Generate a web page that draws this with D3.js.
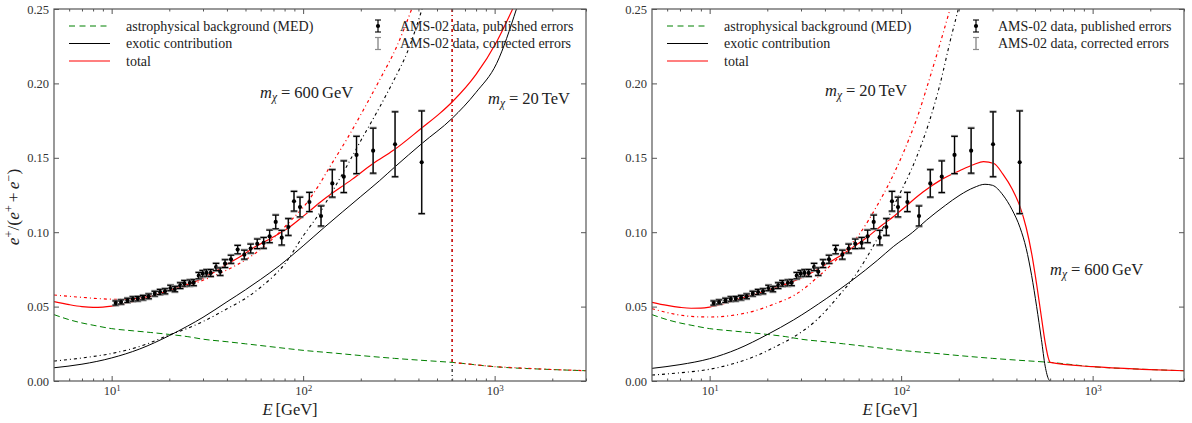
<!DOCTYPE html>
<html><head><meta charset="utf-8">
<script src="https://cdn.jsdelivr.net/npm/d3@7"></script>
<style>
body{margin:0;background:#fff;}
svg{display:block;font-family:"Liberation Serif","DejaVu Serif",serif;}
</style></head><body>
<svg id="c" width="1192" height="423"></svg>
<script>
// ---------- data ----------
const amsE = [10.5,11.2,12.1,12.9,13.7,14.6,15.6,16.8,17.9,19.0,20.3,21.4,22.8,24.0,25.6,26.8,28.5,29.9,31.3,32.9,35.1,36.9,39.1,42.0,45.5,49.3,53.2,57.6,62.2,66.8,71.9,77.3,83.7,89.6,96.3,107.8,124,142,163,190,232,302,416];
const amsF = [0.0524,0.0531,0.0542,0.0551,0.0553,0.0560,0.0569,0.0587,0.0598,0.0603,0.0625,0.0618,0.0641,0.0656,0.0659,0.0661,0.0708,0.0721,0.0726,0.0726,0.0766,0.0735,0.0789,0.0818,0.0883,0.0849,0.0890,0.0922,0.0928,0.0972,0.1069,0.0963,0.1035,0.1208,0.1169,0.1203,0.1109,0.1328,0.1373,0.1519,0.1548,0.1591,0.1470];
const errPublished = [0.0014,0.0014,0.0014,0.0015,0.0015,0.0015,0.0016,0.0016,0.0017,0.0017,0.0018,0.0018,0.0019,0.0019,0.0020,0.0020,0.0021,0.0021,0.0022,0.0023,0.0024,0.0025,0.0026,0.0027,0.0028,0.0030,0.0030,0.0032,0.0036,0.0042,0.0046,0.0049,0.0056,0.0066,0.0066,0.0064,0.0067,0.0092,0.0106,0.0125,0.0151,0.0218,0.0345];
const errCorrected = [0.0016,0.0016,0.0016,0.0017,0.0017,0.0017,0.0018,0.0018,0.0019,0.0019,0.0020,0.0020,0.0021,0.0021,0.0022,0.0022,0.0023,0.0023,0.0024,0.0025,0.0026,0.0027,0.0028,0.0029,0.0030,0.0032,0.0032,0.0034,0.0038,0.0044,0.0048,0.0051,0.0058,0.0068,0.0068,0.0066,0.0070,0.0094,0.0108,0.0127,0.0153,0.0219,0.0346];

// astrophysical background (MED), both panels
const bgE = [5,6,7,8,10,13,16,20,25,30,40,50,75,100,150,200,300,450,600,1000,2000,3000];
const bgF = [0.0446,0.0412,0.0390,0.0375,0.0352,0.0337,0.0326,0.0313,0.0298,0.0281,0.0264,0.0250,0.0224,0.0206,0.0186,0.0171,0.0152,0.0136,0.0125,0.0096,0.0077,0.0069];

// left panel: m = 20 TeV (solid), m = 600 GeV (dash-dot)
const exo20L_E = [5,7,10,14,20,25,30,40,50,60,75,100,127,160,200,250,302,416,600,800,1025,1300];
const exo20L_F = [0.0089,0.0113,0.0155,0.0215,0.0305,0.0370,0.0428,0.0532,0.0613,0.0683,0.0774,0.0908,0.1025,0.1135,0.1240,0.1345,0.1440,0.1595,0.1765,0.1940,0.2135,0.2500];
const tot20L_E = [5,6,7,8,9,10,12.8,15,18.3,22,27.2,33,40.6,46.8,55,71.3,85,104,127,180,233,296,416,519,600,800,1025,1242];
const tot20L_F = [0.0533,0.0513,0.0500,0.0495,0.0497,0.0503,0.0532,0.0556,0.0592,0.0627,0.0667,0.0720,0.0790,0.0835,0.0895,0.0975,0.1035,0.1125,0.1216,0.1355,0.1463,0.1550,0.1700,0.1800,0.1875,0.2060,0.2280,0.2500];
const exo600L_E = [5,7,10,15,20,25,30,40,50,60,70,80,100,122,140,165,200,252,300,350,418];
const exo600L_F = [0.0134,0.0155,0.0185,0.0245,0.0310,0.0355,0.0400,0.0485,0.0555,0.0630,0.0705,0.0785,0.0975,0.1130,0.1260,0.1420,0.1615,0.1845,0.2030,0.2210,0.2500];
const tot600L_E = [5,7,9,11,13,17,22,28,35,45,55,70,85,104,120,138,170,206,250,308,369];
const tot600L_F = [0.0578,0.0562,0.0552,0.0549,0.0553,0.0580,0.0618,0.0663,0.0712,0.0780,0.0850,0.0960,0.1070,0.1194,0.1310,0.1440,0.1630,0.1820,0.2020,0.2247,0.2500];
const dropE = [600,600];
const exo600DropF = [0.25,0];
const tot600TailE = [600,600,1000,2000,3000];
const tot600TailF = [0.25,0.0125,0.0096,0.0077,0.0069];

// right panel: m = 600 GeV (solid), m = 20 TeV (dash-dot)
const exo600R_E = [5,7,10,14,20,27.4,40.9,56.3,75,91,115,136,170,203,240,274,300,340,380,418,450,480,510,540,565,590,600];
const exo600R_F = [0.0085,0.0110,0.0150,0.0215,0.0312,0.0410,0.0556,0.0683,0.0810,0.0903,0.1000,0.1082,0.1180,0.1250,0.1300,0.1322,0.1315,0.1250,0.1150,0.1030,0.0890,0.0710,0.0500,0.0280,0.0100,0.0010,0.0];
const tot600R_E = [5,6,7,8,9,10,12,15,18,22,27,33,40,50,60,67,80,91,108,130,163,203,240,269,305,340,380,418,450,480,510,540,565,590,600,1000,2000,3000];
const tot600R_F = [0.0529,0.0508,0.0495,0.0489,0.0490,0.0497,0.0522,0.0560,0.0590,0.0627,0.0668,0.0718,0.0780,0.0855,0.0925,0.0970,0.1050,0.1104,0.1185,0.1270,0.1355,0.1415,0.1455,0.1474,0.1462,0.1390,0.1290,0.1170,0.1030,0.0860,0.0650,0.0430,0.0260,0.0145,0.0125,0.0096,0.0077,0.0069];
const exo20R_E = [5,7,10,14,18.3,22,27,36.2,46,58.6,74.5,94.8,120.6,140,160,180,199];
const exo20R_F = [0.0040,0.0055,0.0079,0.0125,0.0180,0.0230,0.0290,0.0410,0.0555,0.0724,0.0948,0.1216,0.1507,0.1740,0.2000,0.2280,0.2500];
const tot20R_E = [5,6,7,8,10,13,17,22,28,37.7,48,61,75,87.5,100,111,122,136,150,165,180];
const tot20R_F = [0.0486,0.0460,0.0443,0.0434,0.0430,0.0440,0.0470,0.0520,0.0580,0.0712,0.0840,0.0993,0.1180,0.1340,0.1500,0.1640,0.1780,0.1970,0.2150,0.2330,0.2500];

const xMajor = [10,100,1000];
const xMinor = [6,7,8,9,20,30,40,50,60,70,80,90,200,300,400,500,600,700,800,900,2000,3000];
const yTicks = [0,0.05,0.10,0.15,0.20,0.25];
const legendLeft = ["astrophysical background (MED)","exotic contribution","total"];
const legendRight = ["AMS-02 data, published errors","AMS-02 data, corrected errors"];

// ---------- drawing ----------
const svg = d3.select("#c");
const Y0 = 381, Y1 = 9;
const GREEN = "#008000", RED = "#ff0000";
const DD = "3,3,1,3";
const zip = (a,b) => a.map((v,i)=>[v,b[i]]);

const panels = [
  {x0:54, x1:586, ylabel:true,
   curves:[
     {E:bgE,F:bgF,c:GREEN,w:1,dash:"6,3.5"},
     {E:exo20L_E,F:exo20L_F,c:"#000",w:1},
     {E:tot20L_E,F:tot20L_F,c:RED,w:1.2},
     {E:exo600L_E,F:exo600L_F,c:"#000",w:1.1,dash:DD},
     {E:dropE,F:exo600DropF,c:"#000",w:1.1,dash:DD,lin:true},
     {E:tot600L_E,F:tot600L_F,c:RED,w:1.2,dash:DD},
     {E:tot600TailE,F:tot600TailF,c:RED,w:1.2,dash:DD,lin:true}
   ],
   ann:[{x:260,y:98,m:"600",u:"GeV"},{x:488,y:104,m:"20",u:"TeV"}],
   xlab:290},
  {x0:652, x1:1184, ylabel:false,
   curves:[
     {E:bgE,F:bgF,c:GREEN,w:1,dash:"6,3.5"},
     {E:exo600R_E,F:exo600R_F,c:"#000",w:1},
     {E:tot600R_E,F:tot600R_F,c:RED,w:1.2},
     {E:exo20R_E,F:exo20R_F,c:"#000",w:1.1,dash:DD},
     {E:tot20R_E,F:tot20R_F,c:RED,w:1.2,dash:DD}
   ],
   ann:[{x:825,y:96,m:"20",u:"TeV"},{x:1050,y:275,m:"600",u:"GeV"}],
   xlab:890}
];

function mathLabel(g, x, y, m, u, size){
  const t = g.append("text").attr("x",x).attr("y",y).attr("font-size",size).attr("fill","#222");
  t.append("tspan").attr("font-style","italic").text("m");
  t.append("tspan").attr("font-style","italic").attr("font-size","0.7em").attr("dy","0.3em").text("χ");
  t.append("tspan").attr("dy","-0.21em").attr("dx","4").text("=");
  t.append("tspan").attr("dx","4").text(m);
  t.append("tspan").attr("dx","3").text(u);
}

panels.forEach((p,idx)=>{
  const x = d3.scaleLog().domain([5,3000]).range([p.x0,p.x1]);
  const y = d3.scaleLinear().domain([0,0.25]).range([Y0,Y1]);
  const g = svg.append("g");
  const clipId = "clip"+idx;
  svg.append("clipPath").attr("id",clipId).append("rect")
     .attr("x",p.x0).attr("y",Y1).attr("width",p.x1-p.x0).attr("height",Y0-Y1);
  const plot = g.append("g").attr("clip-path",`url(#${clipId})`);
  const smooth = d3.line().x(d=>x(d[0])).y(d=>y(d[1])).curve(d3.curveMonotoneX);
  const lin = d3.line().x(d=>x(d[0])).y(d=>y(d[1]));
  p.curves.forEach(c=>{
    plot.append("path").attr("d",(c.lin?lin:smooth)(zip(c.E,c.F)))
      .attr("fill","none").attr("stroke",c.c).attr("stroke-width",c.w)
      .attr("stroke-dasharray",c.dash||null);
  });
  // data with error bars
  const pts = amsE.map((e,i)=>({e,f:amsF[i],ep:errPublished[i],ec:errCorrected[i]}));
  const eb = plot.append("g");
  pts.forEach(d=>{
    const px = x(d.e);
    eb.append("line").attr("x1",px).attr("x2",px).attr("y1",y(d.f-d.ec)).attr("y2",y(d.f+d.ec))
      .attr("stroke","#8c8c8c").attr("stroke-width",1.6);
    [d.f-d.ec,d.f+d.ec].forEach(v=>eb.append("line").attr("x1",px-3.5).attr("x2",px+3.5)
      .attr("y1",y(v)).attr("y2",y(v)).attr("stroke","#999").attr("stroke-width",2.4));
    eb.append("line").attr("x1",px).attr("x2",px).attr("y1",y(d.f-d.ep)).attr("y2",y(d.f+d.ep))
      .attr("stroke","#000").attr("stroke-width",1.2);
    [d.f-d.ep,d.f+d.ep].forEach(v=>eb.append("line").attr("x1",px-3.2).attr("x2",px+3.2)
      .attr("y1",y(v)).attr("y2",y(v)).attr("stroke","#000").attr("stroke-width",1.1));
    eb.append("circle").attr("cx",px).attr("cy",y(d.f)).attr("r",2.1).attr("fill","#000");
  });

  // axes
  const AX = "#555";
  const styleAxis = s => { s.select(".domain").remove(); s.selectAll("line").attr("stroke",AX); s.selectAll("text").attr("fill","#333").attr("font-size",12.5).attr("font-family","Liberation Serif, serif"); };
  g.append("g").attr("transform",`translate(0,${Y0})`)
    .call(d3.axisBottom(x).tickValues(xMinor).tickSize(-2.5).tickFormat("")).call(styleAxis);
  const bx = g.append("g").attr("transform",`translate(0,${Y0})`)
    .call(d3.axisBottom(x).tickValues(xMajor).tickSize(-5).tickPadding(5).tickFormat("")).call(styleAxis);
  bx.selectAll(".tick text").each(function(d){
    const t = d3.select(this);
    t.append("tspan").text("10");
    t.append("tspan").attr("dy","-0.45em").attr("font-size","0.72em").text(Math.round(Math.log10(d)));
  });
  g.append("g").attr("transform",`translate(0,${Y1})`)
    .call(d3.axisTop(x).tickValues(xMinor).tickSize(-2.5).tickFormat("")).call(styleAxis);
  g.append("g").attr("transform",`translate(0,${Y1})`)
    .call(d3.axisTop(x).tickValues(xMajor).tickSize(-5).tickFormat("")).call(styleAxis);
  g.append("g").attr("transform",`translate(${p.x0},0)`)
    .call(d3.axisLeft(y).tickValues(yTicks).tickSize(-5).tickPadding(5).tickFormat(d3.format(".2f"))).call(styleAxis);
  g.append("g").attr("transform",`translate(${p.x1},0)`)
    .call(d3.axisRight(y).tickValues(yTicks).tickSize(-5).tickFormat("")).call(styleAxis);
  g.append("rect").attr("x",p.x0).attr("y",Y1).attr("width",p.x1-p.x0).attr("height",Y0-Y1)
    .attr("fill","none").attr("stroke",AX).attr("stroke-width",1.2);

  // legend
  const lg = g.append("g").attr("font-size",14).attr("fill","#222");
  const rows = [26,43.5,61];
  const styles = [{c:GREEN,dash:"6,4.5",w:1},{c:"#000",w:1},{c:RED,w:1.2}];
  legendLeft.forEach((txt,i)=>{
    lg.append("line").attr("x1",p.x0+15).attr("x2",p.x0+56).attr("y1",rows[i]).attr("y2",rows[i])
      .attr("stroke",styles[i].c).attr("stroke-width",styles[i].w).attr("stroke-dasharray",styles[i].dash||null);
    lg.append("text").attr("x",p.x0+72).attr("y",rows[i]).attr("dy","0.35em").text(txt);
  });
  const ex = p.x0+324;
  lg.append("line").attr("x1",ex).attr("x2",ex).attr("y1",20).attr("y2",32).attr("stroke","#000").attr("stroke-width",1.2);
  [20,32].forEach(v=>lg.append("line").attr("x1",ex-3).attr("x2",ex+3).attr("y1",v).attr("y2",v).attr("stroke","#000").attr("stroke-width",1.1));
  lg.append("circle").attr("cx",ex).attr("cy",26).attr("r",2.1).attr("fill","#000");
  lg.append("line").attr("x1",ex).attr("x2",ex).attr("y1",37.5).attr("y2",49.5).attr("stroke","#8c8c8c").attr("stroke-width",1.4);
  [37.5,49.5].forEach(v=>lg.append("line").attr("x1",ex-3).attr("x2",ex+3).attr("y1",v).attr("y2",v).attr("stroke","#8c8c8c").attr("stroke-width",1.2));
  legendRight.forEach((txt,i)=>{
    lg.append("text").attr("x",p.x0+346).attr("y",rows[i]).attr("dy","0.35em").text(txt);
  });

  // annotations
  p.ann.forEach(a=>mathLabel(g,a.x,a.y,a.m,a.u,16.5));

  // x label
  const xl = g.append("text").attr("x",p.xlab).attr("y",415).attr("text-anchor","middle").attr("font-size",16.5).attr("fill","#222");
  xl.append("tspan").attr("font-style","italic").text("E");
  xl.append("tspan").attr("dx","3").text("[GeV]");

  if(p.ylabel){
    const yl = g.append("text").attr("transform","translate(19,207) rotate(-90)").attr("text-anchor","middle").attr("font-size",17.5).attr("fill","#222");
    yl.append("tspan").attr("font-style","italic").text("e");
    yl.append("tspan").attr("font-size","0.7em").attr("dy","-0.5em").text("+");
    yl.append("tspan").attr("dy","0.35em").text("/(");
    yl.append("tspan").attr("font-style","italic").text("e");
    yl.append("tspan").attr("font-size","0.7em").attr("dy","-0.5em").text("+");
    yl.append("tspan").attr("dy","0.35em").attr("dx","3").text("+");
    yl.append("tspan").attr("font-style","italic").attr("dx","3").text("e");
    yl.append("tspan").attr("font-size","0.7em").attr("dy","-0.5em").text("−");
    yl.append("tspan").attr("dy","0.35em").text(")");
  }
});
</script></body></html>
